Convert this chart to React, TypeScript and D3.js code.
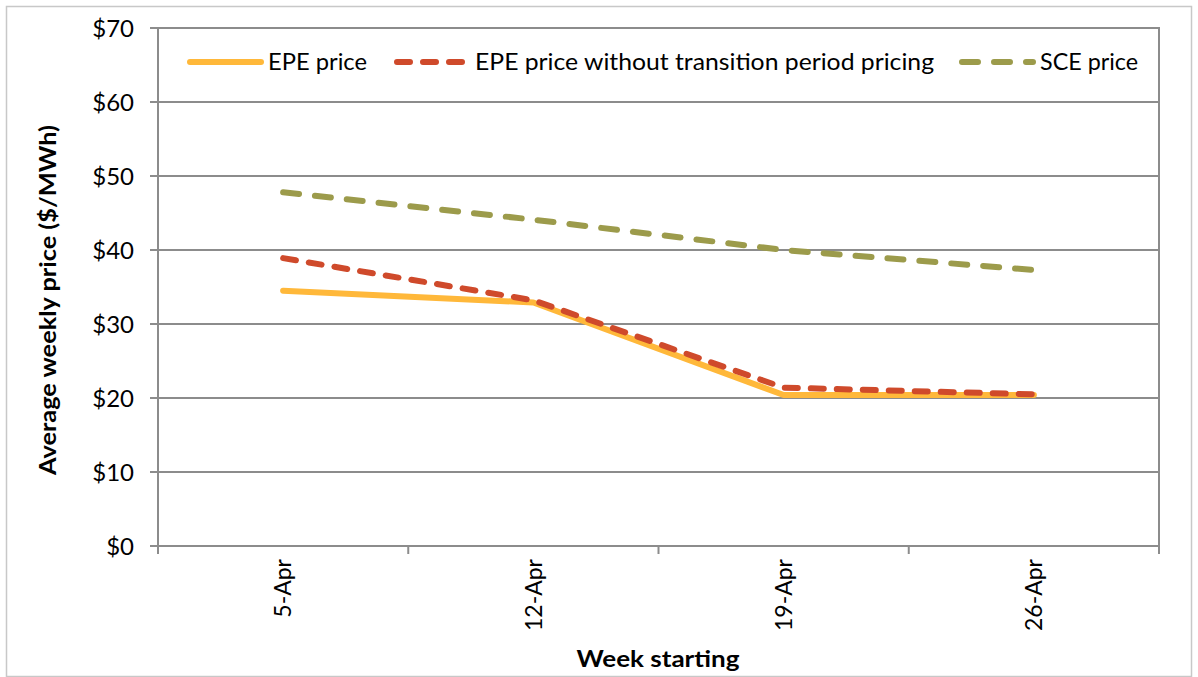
import React, { useEffect, useRef } from "react";
import * as d3 from "d3";

const weeks = ["5-Apr", "12-Apr", "19-Apr", "26-Apr"];
const epePrice = [34.5, 32.9, 20.4, 20.4];
const epeNoTransition = [38.9, 33.2, 21.4, 20.5];
const scePrice = [47.8, 44.1, 40.0, 37.3];
const yTicks = [0, 10, 20, 30, 40, 50, 60, 70];

const seriesNames = ["EPE price", "EPE price without transition period pricing", "SCE price"];
const seriesColors = ["#FFB83A", "#CF4A2B", "#9C9B4B"];
const seriesDash = ["none", "13,13", "16,16"];

function App() {
  const ref = useRef<SVGSVGElement>(null);

  useEffect(() => {
    const W = 1198;
    const H = 677;
    const margin = { top: 28, right: 39, bottom: 131, left: 158 };
    const width = W - margin.left - margin.right;
    const height = H - margin.top - margin.bottom;
    const font = "Lato, 'Noto Sans', sans-serif";

    const svg = d3.select(ref.current);
    svg.selectAll("*").remove();

    // outer frame
    svg
      .append("rect")
      .attr("x", 6.5)
      .attr("y", 6.5)
      .attr("width", W - 13)
      .attr("height", H - 7)
      .attr("fill", "white")
      .attr("stroke", "#c8c8c8")
      .attr("stroke-width", 1.5);

    const g = svg.append("g").attr("transform", `translate(${margin.left},${margin.top})`);

    const x = d3.scaleBand().domain(weeks).range([0, width]);
    const y = d3.scaleLinear().domain([0, 70]).range([height, 0]);

    // gridlines
    g.append("g")
      .selectAll("line")
      .data(yTicks)
      .join("line")
      .attr("x1", -8)
      .attr("x2", width)
      .attr("y1", (d) => y(d))
      .attr("y2", (d) => y(d))
      .attr("stroke", "#8c8c8c")
      .attr("stroke-width", 2);

    // y tick labels
    g.append("g")
      .selectAll("text")
      .data(yTicks)
      .join("text")
      .attr("x", -24)
      .attr("y", (d) => y(d))
      .attr("dy", "0.36em")
      .attr("text-anchor", "end")
      .attr("font-family", font)
      .attr("font-size", 24)
      .attr("fill", "#000")
      .text((d) => `$${d}`);

    // plot frame
    g.append("rect")
      .attr("width", width)
      .attr("height", height)
      .attr("fill", "none")
      .attr("stroke", "#8c8c8c")
      .attr("stroke-width", 2);

    // x ticks at band edges
    const edges = weeks.map((w) => x(w) as number).concat([width]);
    g.append("g")
      .selectAll("line")
      .data(edges)
      .join("line")
      .attr("x1", (d) => d)
      .attr("x2", (d) => d)
      .attr("y1", height)
      .attr("y2", height + 8)
      .attr("stroke", "#8c8c8c")
      .attr("stroke-width", 2);

    // x labels
    g.append("g")
      .selectAll("text")
      .data(weeks)
      .join("text")
      .attr("transform", (d) => `translate(${(x(d) as number) + x.bandwidth() / 2},${height + 13}) rotate(-90)`)
      .attr("dy", "0.36em")
      .attr("text-anchor", "end")
      .attr("font-family", font)
      .attr("font-size", 23)
      .text((d) => d);

    // lines
    const allSeries = [epePrice, epeNoTransition, scePrice];
    const line = d3
      .line<number>()
      .x((_, i) => (x(weeks[i]) as number) + x.bandwidth() / 2)
      .y((d) => y(d));

    allSeries.forEach((s, i) => {
      g.append("path")
        .datum(s)
        .attr("d", line)
        .attr("fill", "none")
        .attr("stroke", seriesColors[i])
        .attr("stroke-width", 6)
        .attr("stroke-linecap", "round")
        .attr("stroke-linejoin", "round")
        .attr("stroke-dasharray", seriesDash[i]);
    });

    // legend
    const legendX = [190 - margin.left, 397 - margin.left, 962 - margin.left];
    const legendLen = [99, 459, 98];
    const legendY = 62 - margin.top;
    const lg = g.append("g");
    seriesNames.forEach((name, i) => {
      lg.append("line")
        .attr("x1", legendX[i])
        .attr("x2", legendX[i] + 71)
        .attr("y1", legendY)
        .attr("y2", legendY)
        .attr("stroke", seriesColors[i])
        .attr("stroke-width", 6)
        .attr("stroke-linecap", "round")
        .attr("stroke-dasharray", seriesDash[i]);
      lg.append("text")
        .attr("x", legendX[i] + 78)
        .attr("y", legendY)
        .attr("dy", "0.36em")
        .attr("font-family", font)
        .attr("font-size", 23)
        .attr("textLength", legendLen[i])
        .attr("lengthAdjust", "spacingAndGlyphs")
        .text(name);
    });

    // axis titles
    svg
      .append("text")
      .attr("transform", `translate(48,300) rotate(-90)`)
      .attr("text-anchor", "middle")
      .attr("dy", "0.36em")
      .attr("font-family", font)
      .attr("font-weight", "bold")
      .attr("font-size", 22)
      .attr("textLength", 350)
      .attr("lengthAdjust", "spacingAndGlyphs")
      .text("Average weekly price ($/MWh)");

    svg
      .append("text")
      .attr("x", 658)
      .attr("y", 667)
      .attr("text-anchor", "middle")
      .attr("font-family", font)
      .attr("font-weight", "bold")
      .attr("font-size", 23)
      .attr("textLength", 163)
      .attr("lengthAdjust", "spacingAndGlyphs")
      .text("Week starting");
  }, []);

  return (
    <svg
      ref={ref}
      width={1198}
      height={677}
      style={{ position: "absolute", left: 0, top: 0, display: "block" }}
    />
  );
}

export default App;
